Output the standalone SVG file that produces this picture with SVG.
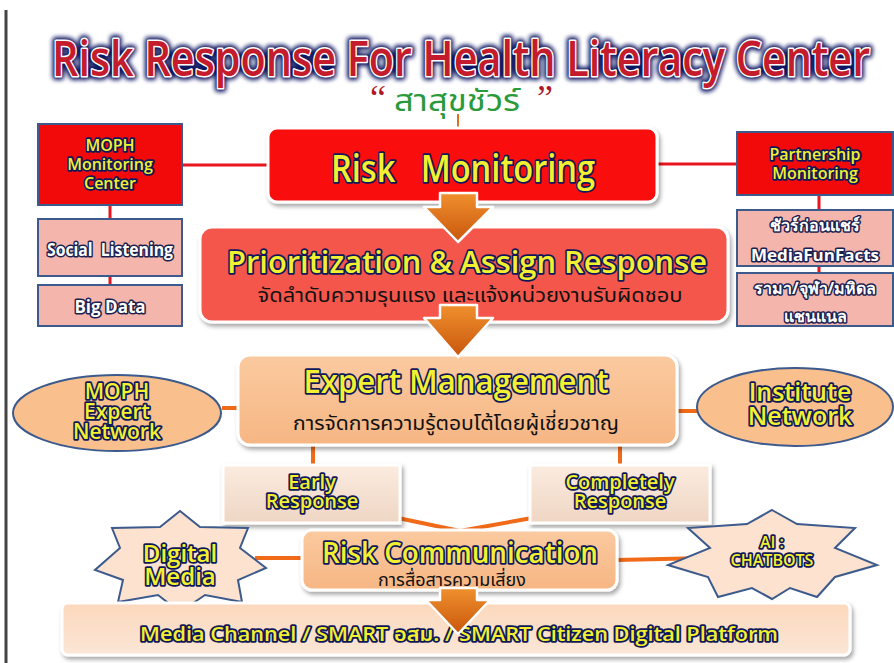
<svg xmlns="http://www.w3.org/2000/svg" width="894" height="663" viewBox="0 0 894 663">
<style>
  .yt{font-family:"Open Sans","Noto Sans","DejaVu Sans",sans-serif;font-weight:600;fill:#f2f030;stroke:#10185a;stroke-width:3.5;stroke-linejoin:round;paint-order:stroke;text-anchor:middle}
  .wt{font-family:"Open Sans","Noto Sans","DejaVu Sans",sans-serif;font-weight:700;fill:#ffffff;stroke:#1a2050;stroke-width:3;stroke-linejoin:round;paint-order:stroke;text-anchor:middle}
  .th{font-family:"Noto Sans Thai","Noto Sans","DejaVu Sans",sans-serif;fill:#111111;text-anchor:middle}
  .ttl{font-family:"Open Sans","Noto Sans",sans-serif;font-weight:600;font-size:41px;text-anchor:middle}
  .redbox{fill:#f20a0a;stroke:#3c5a8c;stroke-width:2}
  .pinkbox{fill:#f4b6ac;stroke:#3c5a8c;stroke-width:2}
  .red{stroke:#e8141e;stroke-width:3;fill:none}
  .org{stroke:#f06a18;stroke-width:4;fill:none}
  .star{fill:#fde2d0;stroke:#3c5a8c;stroke-width:2}
  .ell{fill:#f9c08e;stroke:#3c5a8c;stroke-width:2}
  .arrow{fill:url(#ag);stroke:#ffffff;stroke-width:2.5;stroke-linejoin:round}
</style>
<defs>
  <filter id="sh" x="-10%" y="-10%" width="130%" height="140%">
    <feDropShadow dx="2" dy="3" stdDeviation="2" flood-color="#000" flood-opacity="0.35"/>
  </filter>
  <filter id="glow" x="-5%" y="-50%" width="110%" height="200%">
    <feGaussianBlur stdDeviation="2"/>
  </filter>
  <linearGradient id="ag" x1="0" y1="0" x2="0" y2="1">
    <stop offset="0" stop-color="#f0902e"/>
    <stop offset="1" stop-color="#c8560c"/>
  </linearGradient>
  <linearGradient id="peach" x1="0" y1="0" x2="0" y2="1">
    <stop offset="0" stop-color="#fbcaa0"/>
    <stop offset="1" stop-color="#f6b683"/>
  </linearGradient>
  <linearGradient id="light" x1="0" y1="0" x2="0" y2="1">
    <stop offset="0" stop-color="#fbebdf"/>
    <stop offset="1" stop-color="#efd6c4"/>
  </linearGradient>
  <linearGradient id="bottomg" x1="0" y1="0" x2="0" y2="1">
    <stop offset="0" stop-color="#fcd8bc"/>
    <stop offset="1" stop-color="#fbe6d6"/>
  </linearGradient>
</defs>
<rect width="894" height="663" fill="#ffffff"/>
<line x1="6" y1="10" x2="6" y2="663" stroke="#444444" stroke-width="3"/>

<g id="title">
  <g transform="translate(0,76) scale(1,1.17)">
    <text class="ttl" x="461" y="0" textLength="818" lengthAdjust="spacingAndGlyphs" fill="none" stroke="#0c1660" stroke-width="7" stroke-linejoin="round" filter="url(#glow)">Risk Response For Health Literacy Center</text>
    <text class="ttl" x="461" y="0" textLength="818" lengthAdjust="spacingAndGlyphs" fill="#c41c2c" stroke="#ffffff" stroke-width="2.6" stroke-linejoin="round" paint-order="stroke">Risk Response For Health Literacy Center</text>
  </g>
  <text x="378" y="110" font-family="Liberation Serif,serif" font-size="36" text-anchor="middle" fill="#b01828" stroke="#ffffff" stroke-width="1.5" paint-order="stroke">“</text>
  <text x="545" y="110" font-family="Liberation Serif,serif" font-size="36" text-anchor="middle" fill="#b01828" stroke="#ffffff" stroke-width="1.5" paint-order="stroke">”</text>
  <text x="457" y="111" font-family="Noto Sans Thai,Noto Sans,sans-serif" font-size="30" text-anchor="middle" textLength="126" lengthAdjust="spacingAndGlyphs" fill="#2a9a3a" stroke="#ffffff" stroke-width="2" paint-order="stroke">สาสุขชัวร์</text>
</g>

<g id="connectors">
  <line class="red" x1="182" y1="165" x2="268" y2="165"/>
  <line class="red" x1="657" y1="164" x2="737" y2="164"/>
  <line class="red" x1="110" y1="205" x2="110" y2="219"/>
  <line class="red" x1="110" y1="276" x2="110" y2="285"/>
  <line class="red" x1="819" y1="195" x2="819" y2="210"/>
  <line class="red" x1="819" y1="266" x2="819" y2="273"/>
  <line x1="458" y1="114" x2="458" y2="128" stroke="#e07020" stroke-width="2"/>
  <line class="org" x1="222" y1="408" x2="238" y2="408"/>
  <line class="org" x1="677" y1="411" x2="697" y2="411"/>
  <line class="org" x1="313" y1="445" x2="313" y2="465"/>
  <line class="org" x1="620" y1="445" x2="620" y2="465"/>
  <polyline class="org" stroke-width="3" points="398,518 460,531 532,518"/>
  <line class="org" stroke-width="3" x1="255" y1="558" x2="302" y2="558"/>
  <line class="org" stroke-width="3" x1="617" y1="560" x2="708" y2="558"/>
</g>

<g id="moph-monitoring">
  <rect class="redbox" x="38" y="124" width="144" height="81"/>
  <text class="yt" font-size="16" x="110" y="151">MOPH</text>
  <text class="yt" font-size="16" x="110" y="170">Monitoring</text>
  <text class="yt" font-size="16" x="110" y="189">Center</text>
</g>
<g id="social-listening">
  <rect class="pinkbox" x="38" y="219" width="144" height="57"/>
  <text class="wt" font-size="17" x="110" y="256" textLength="126" lengthAdjust="spacingAndGlyphs" xml:space="preserve">Social  Listening</text>
</g>
<g id="big-data">
  <rect class="pinkbox" x="38" y="285" width="144" height="41"/>
  <text class="wt" font-size="17" x="110" y="313">Big Data</text>
</g>

<g id="partnership-monitoring">
  <rect class="redbox" x="737" y="132" width="156" height="63"/>
  <text class="yt" font-size="16" x="815" y="160">Partnership</text>
  <text class="yt" font-size="16" x="815" y="179">Monitoring</text>
</g>
<g id="sure-before-share">
  <rect class="pinkbox" x="737" y="210" width="156" height="56"/>
  <text class="wt" font-size="16" x="815" y="231" font-family="Noto Sans Thai,Noto Sans,sans-serif">ชัวร์ก่อนแชร์</text>
  <text class="wt" font-size="16" x="815" y="261" textLength="128" lengthAdjust="spacingAndGlyphs">MediaFunFacts</text>
</g>
<g id="hospital-channel">
  <rect class="pinkbox" x="737" y="273" width="156" height="53"/>
  <text class="wt" font-size="16" x="815" y="294" font-family="Noto Sans Thai,Noto Sans,sans-serif">รามา/จุฬา/มหิดล</text>
  <text class="wt" font-size="16" x="815" y="322" font-family="Noto Sans Thai,Noto Sans,sans-serif">แชนแนล</text>
</g>

<g id="risk-monitoring">
  <rect x="268" y="128" width="389" height="74" rx="9" fill="#fa0a0a" stroke="#ffffff" stroke-width="3" filter="url(#sh)"/>
  <text class="yt" font-size="38" x="463" y="182" textLength="264" lengthAdjust="spacingAndGlyphs" xml:space="preserve">Risk   Monitoring</text>
</g>

<g id="prioritization">
  <rect x="200" y="227" width="528" height="95" rx="12" fill="#f5574c" stroke="#ffffff" stroke-width="3" filter="url(#sh)"/>
  <text class="yt" font-size="31" x="467" y="273" textLength="480" lengthAdjust="spacingAndGlyphs">Prioritization &amp; Assign Response</text>
  <text class="th" font-size="19" x="470" y="302" textLength="425" lengthAdjust="spacingAndGlyphs">จัดลำดับความรุนแรง และแจ้งหน่วยงานรับผิดชอบ</text>
</g>

<g id="expert-management">
  <rect x="238" y="355" width="439" height="90" rx="12" fill="url(#peach)" stroke="#ffffff" stroke-width="3" filter="url(#sh)"/>
  <text class="yt" font-size="32" x="456" y="393" textLength="305" lengthAdjust="spacingAndGlyphs">Expert Management</text>
  <text class="th" font-size="20" x="456" y="430" textLength="326" lengthAdjust="spacingAndGlyphs">การจัดการความรู้ตอบโต้โดยผู้เชี่ยวชาญ</text>
</g>

<g id="moph-expert-network">
  <ellipse class="ell" cx="117" cy="413" rx="104" ry="38"/>
  <text class="yt" font-size="21" x="117" y="399">MOPH</text>
  <text class="yt" font-size="21" x="117" y="419">Expert</text>
  <text class="yt" font-size="21" x="117" y="439">Network</text>
</g>

<g id="institute-network">
  <ellipse class="ell" cx="795" cy="407" rx="98" ry="39"/>
  <text class="yt" font-size="25" x="800" y="401">Institute</text>
  <text class="yt" font-size="25" x="800" y="425">Network</text>
</g>

<g id="early-response">
  <rect x="223" y="465" width="177" height="58" fill="url(#light)" stroke="#ffffff" stroke-width="3" filter="url(#sh)"/>
  <text class="yt" font-size="20" x="312" y="489">Early</text>
  <text class="yt" font-size="20" x="312" y="508">Response</text>
</g>

<g id="completely-response">
  <rect x="530" y="465" width="180" height="58" fill="url(#light)" stroke="#ffffff" stroke-width="3" filter="url(#sh)"/>
  <text class="yt" font-size="20" x="620" y="489">Completely</text>
  <text class="yt" font-size="20" x="620" y="508">Response</text>
</g>

<g id="digital-media">
  <polygon class="star" points="180,511 200,527 248,528 240,548 266,568 238,580 242,602 205,595 180,612 158,595 118,602 123,580 95,570 120,548 112,528 160,527"/>
  <text class="yt" font-size="24" x="180" y="562">Digital</text>
  <text class="yt" font-size="24" x="180" y="585">Media</text>
</g>

<g id="ai-chatbots">
  <polygon class="star" points="772,510 797,524 855,528 835,548 877,565 835,577 817,597 790,588 772,599 752,588 718,597 708,577 668,565 710,548 688,528 747,524"/>
  <text class="yt" font-size="16" x="772" y="548">AI :</text>
  <text class="yt" font-size="16" x="772" y="566">CHATBOTS</text>
</g>

<g id="risk-communication">
  <rect x="302" y="530" width="315" height="60" rx="10" fill="url(#peach)" stroke="#ffffff" stroke-width="3" filter="url(#sh)"/>
  <text class="yt" font-size="28" x="460" y="563" textLength="276" lengthAdjust="spacingAndGlyphs">Risk Communication</text>
  <text class="th" font-size="18" x="452" y="586">การสื่อสารความเสี่ยง</text>
</g>

<g id="media-channel">
  <rect x="62" y="603" width="788" height="52" rx="6" fill="url(#bottomg)" stroke="#ffffff" stroke-width="3" filter="url(#sh)"/>
  <text class="yt" font-size="19" x="459" y="641" textLength="638" lengthAdjust="spacingAndGlyphs">Media Channel / SMART <tspan font-family="Noto Sans Thai,Noto Sans,sans-serif">อสม.</tspan> / SMART Citizen Digital Platform</text>
</g>

<g id="arrows">
  <path class="arrow" d="M440,193 H477 V207 H493 L458,242 L424,207 H440 Z"/>
  <path class="arrow" d="M440,305 H477 V318 H493 L458,357 L424,318 H440 Z"/>
  <path class="arrow" d="M440,588 H477 V600 H490 L458,634 L426,600 H440 Z"/>
</g>
</svg>
